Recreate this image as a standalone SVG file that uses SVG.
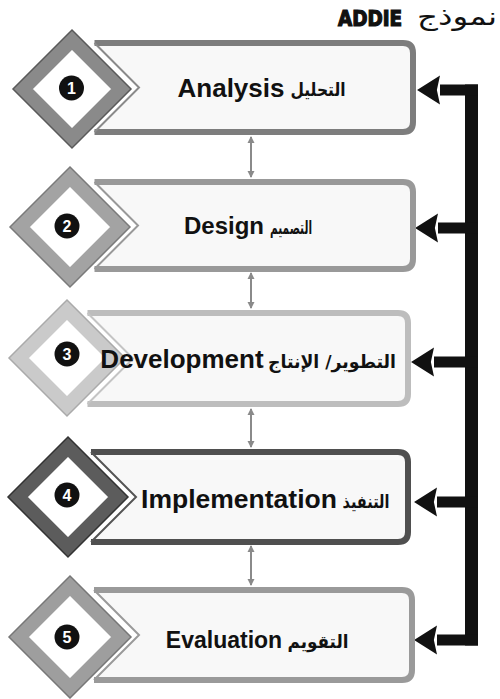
<svg xmlns="http://www.w3.org/2000/svg" width="500" height="699" viewBox="0 0 500 699">
<defs>
<marker id="bigHead" markerUnits="userSpaceOnUse" markerWidth="24" markerHeight="32" refX="0" refY="0" viewBox="0 -15 23 30" orient="auto" overflow="visible">
<path d="M0,-14 L22,0 L0,14 L3,0 Z" fill="#111"/>
</marker>
<marker id="small" markerUnits="userSpaceOnUse" markerWidth="8" markerHeight="8" refX="6" refY="0" viewBox="0 -4 8 8" orient="auto-start-reverse" overflow="visible">
<path d="M0,-3.5 L7,0 L0,3.5 Z" fill="#8a8a8a"/>
</marker>
</defs>
<style>
.bfill{fill:#f8f8f8;stroke:none}
.bord{fill:none;stroke-width:6;stroke-linejoin:round}
.chev{fill:none;stroke-width:2}
.dia{fill:#ffffff;stroke-width:14;stroke-linejoin:miter}
.diaout{fill:none;stroke-width:1.5;stroke-linejoin:miter}
.num-c{fill:#111}
.num{font-family:"Liberation Sans",Arial,sans-serif;font-weight:bold;font-size:16px;fill:#fff;text-anchor:middle}
.en{font-family:"Liberation Sans",Arial,sans-serif;font-weight:bold;fill:#111;text-anchor:middle}
.ar{font-family:"DejaVu Sans","Noto Sans",sans-serif;font-weight:bold;font-size:18px;fill:#111;text-anchor:middle}
.shaft{stroke:#111;stroke-width:11;fill:none}
.bar{stroke:#111;stroke-width:13;fill:none}
.link{stroke:#8a8a8a;stroke-width:2;fill:none}
</style>
<rect width="500" height="699" fill="#ffffff"/>

<g id="title">
<text x="370" y="26" font-family="DejaVu Sans Condensed,'DejaVu Sans',sans-serif" font-weight="bold" font-size="21" text-anchor="middle" textLength="64" lengthAdjust="spacingAndGlyphs" fill="#111" stroke="#111" stroke-width="1.2">ADDIE</text>
<text x="457" y="25" font-family="'DejaVu Sans','Noto Sans',sans-serif" font-size="25" text-anchor="middle" textLength="80" lengthAdjust="spacingAndGlyphs" fill="#111">نموذج</text>
</g>

<g id="connectors">
<path class="bar" d="M471.5,84.5 V645.5"/>
<line class="shaft" x1="478" y1="90" x2="440" y2="90" marker-end="url(#bigHead)"/>
<line class="shaft" x1="478" y1="228" x2="438" y2="228" marker-end="url(#bigHead)"/>
<line class="shaft" x1="478" y1="362" x2="434" y2="362" marker-end="url(#bigHead)"/>
<line class="shaft" x1="478" y1="502" x2="437" y2="502" marker-end="url(#bigHead)"/>
<line class="shaft" x1="478" y1="640" x2="437" y2="640" marker-end="url(#bigHead)"/>
<line class="link" x1="251" y1="137" x2="251" y2="177" marker-start="url(#small)" marker-end="url(#small)"/>
<line class="link" x1="251" y1="273" x2="251" y2="308" marker-start="url(#small)" marker-end="url(#small)"/>
<line class="link" x1="251" y1="409" x2="251" y2="447" marker-start="url(#small)" marker-end="url(#small)"/>
<line class="link" x1="251" y1="546" x2="251" y2="585" marker-start="url(#small)" marker-end="url(#small)"/>
</g>

<g id="node1">
<path class="bfill" d="M94.5,43 H403 Q413,43 413,53 V122 Q413,132 403,132 H94.5 L139,87.5 Z"/>
<path class="bord" stroke="#7d7d7d" d="M94.5,43 H403 Q413,43 413,53 V122 Q413,132 403,132 H94.5"/>
<path class="chev" stroke="#8a8a8a" d="M94.5,43 L139,87.5 L94.5,132"/>
<polygon class="dia" stroke="#8a8a8a" points="72,40 121,89 72,138 23,89"/>
<polygon class="diaout" stroke="#5a5a5a" points="72,30 131,89 72,148 13,89"/>
<circle class="num-c" cx="71.5" cy="88" r="12.5"/>
<text class="num" x="71.5" y="94">1</text>
<text class="en" x="231" y="97" font-size="26">Analysis</text>
<text class="ar" x="318" y="96" textLength="55" lengthAdjust="spacingAndGlyphs">التحليل</text>
</g>

<g id="node2">
<path class="bfill" d="M94.5,182 H403 Q413,182 413,192 V259 Q413,269 403,269 H94.5 L138,225.5 Z"/>
<path class="bord" stroke="#999999" d="M94.5,182 H403 Q413,182 413,192 V259 Q413,269 403,269 H94.5"/>
<path class="chev" stroke="#999999" d="M94.5,182 L138,225.5 L94.5,269"/>
<polygon class="dia" stroke="#a3a3a3" points="70,177 120,227 70,277 20,227"/>
<polygon class="diaout" stroke="#7a7a7a" points="70,167 130,227 70,287 10,227"/>
<circle class="num-c" cx="67" cy="226" r="12.5"/>
<text class="num" x="67" y="232">2</text>
<text class="en" x="224" y="234" font-size="24">Design</text>
<text class="ar" x="291" y="234" textLength="42" lengthAdjust="spacingAndGlyphs">التصميم</text>
</g>

<g id="node3">
<path class="bfill" d="M87.5,313 H398 Q408,313 408,323 V394 Q408,404 398,404 H87.5 L133,358.5 Z"/>
<path class="bord" stroke="#bdbdbd" d="M87.5,313 H398 Q408,313 408,323 V394 Q408,404 398,404 H87.5"/>
<path class="chev" stroke="#c4c4c4" d="M87.5,313 L133,358.5 L87.5,404"/>
<polygon class="dia" stroke="#cacaca" points="67,310 115,358 67,406 19,358"/>
<polygon class="diaout" stroke="#aaaaaa" points="67,300 125,358 67,416 9,358"/>
<circle class="num-c" cx="67" cy="354" r="12.5"/>
<text class="num" x="67" y="360">3</text>
<text class="en" x="182" y="368" font-size="26">Development</text>
<text class="ar" x="332" y="368" textLength="128" lengthAdjust="spacingAndGlyphs">التطوير/ الإنتاج</text>
</g>

<g id="node4">
<path class="bfill" d="M91,452 H398 Q408,452 408,462 V532 Q408,542 398,542 H91 L136,497 Z"/>
<path class="bord" stroke="#4f4f4f" d="M91,452 H398 Q408,452 408,462 V532 Q408,542 398,542 H91"/>
<path class="chev" stroke="#555555" d="M91,452 L136,497 L91,542"/>
<polygon class="dia" stroke="#5c5c5c" points="68,447 118,497 68,547 18,497"/>
<polygon class="diaout" stroke="#333333" points="68,437 128,497 68,557 8,497"/>
<circle class="num-c" cx="67" cy="495" r="12.5"/>
<text class="num" x="67" y="501">4</text>
<text class="en" x="239" y="508" font-size="26.5">Implementation</text>
<text class="ar" x="366" y="508" textLength="47" lengthAdjust="spacingAndGlyphs">التنفيذ</text>
</g>

<g id="node5">
<path class="bfill" d="M94,590 H402 Q412,590 412,600 V670 Q412,680 402,680 H94 L139,635 Z"/>
<path class="bord" stroke="#9a9a9a" d="M94,590 H402 Q412,590 412,600 V670 Q412,680 402,680 H94"/>
<path class="chev" stroke="#9a9a9a" d="M94,590 L139,635 L94,680"/>
<polygon class="dia" stroke="#9e9e9e" points="70,586 121,637 70,688 19,637"/>
<polygon class="diaout" stroke="#777777" points="70,576 131,637 70,698 9,637"/>
<circle class="num-c" cx="67" cy="637" r="12.5"/>
<text class="num" x="67" y="643">5</text>
<text class="en" x="224" y="648" font-size="23">Evaluation</text>
<text class="ar" x="318" y="648" textLength="61" lengthAdjust="spacingAndGlyphs">التقويم</text>
</g>
</svg>
